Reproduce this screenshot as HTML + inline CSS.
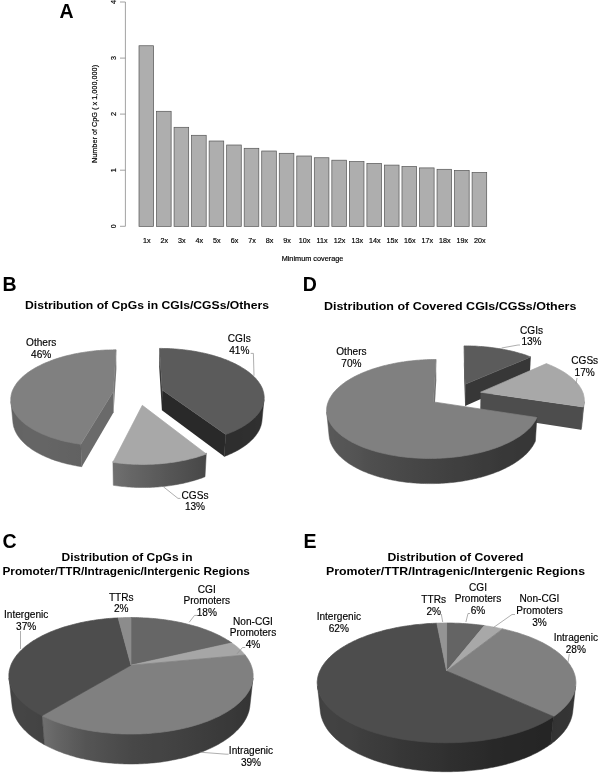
<!DOCTYPE html>
<html><head><meta charset="utf-8"><title>Figure</title>
<style>html,body{margin:0;padding:0;background:#fff}svg{display:block}text{font-family:"Liberation Sans",Arial,sans-serif}</style>
</head><body>
<svg width="600" height="774" viewBox="0 0 600 774">
<rect width="600" height="774" fill="#fff"/>
<defs><linearGradient id="g1" gradientUnits="userSpaceOnUse" x1="264.0" y1="0" x2="225.8" y2="0"><stop offset="0.000" stop-color="#313131"/><stop offset="0.006" stop-color="#313131"/><stop offset="0.021" stop-color="#313131"/><stop offset="0.042" stop-color="#303030"/><stop offset="0.070" stop-color="#303030"/><stop offset="0.104" stop-color="#303030"/><stop offset="0.144" stop-color="#303030"/><stop offset="0.191" stop-color="#303030"/><stop offset="0.244" stop-color="#2f2f2f"/><stop offset="0.304" stop-color="#2f2f2f"/><stop offset="0.370" stop-color="#2f2f2f"/><stop offset="0.442" stop-color="#2f2f2f"/><stop offset="0.521" stop-color="#2f2f2f"/><stop offset="0.605" stop-color="#2e2e2e"/><stop offset="0.696" stop-color="#2e2e2e"/><stop offset="0.792" stop-color="#2e2e2e"/><stop offset="0.893" stop-color="#2e2e2e"/><stop offset="1.000" stop-color="#2e2e2e"/></linearGradient>
<linearGradient id="g2" gradientUnits="userSpaceOnUse" x1="206.3" y1="0" x2="112.9" y2="0"><stop offset="0.000" stop-color="#474747"/><stop offset="0.049" stop-color="#494949"/><stop offset="0.099" stop-color="#4b4b4b"/><stop offset="0.152" stop-color="#4d4d4d"/><stop offset="0.206" stop-color="#4f4f4f"/><stop offset="0.261" stop-color="#515151"/><stop offset="0.318" stop-color="#535353"/><stop offset="0.377" stop-color="#555555"/><stop offset="0.436" stop-color="#575757"/><stop offset="0.496" stop-color="#5a5a5a"/><stop offset="0.556" stop-color="#5c5c5c"/><stop offset="0.617" stop-color="#5f5f5f"/><stop offset="0.678" stop-color="#616161"/><stop offset="0.739" stop-color="#646464"/><stop offset="0.800" stop-color="#666666"/><stop offset="0.861" stop-color="#696969"/><stop offset="0.921" stop-color="#6c6c6c"/><stop offset="1.000" stop-color="#6f6f6f"/></linearGradient>
<linearGradient id="g3" gradientUnits="userSpaceOnUse" x1="80.8" y1="0" x2="10.9" y2="0"><stop offset="0.000" stop-color="#616161"/><stop offset="0.073" stop-color="#626262"/><stop offset="0.145" stop-color="#626262"/><stop offset="0.215" stop-color="#636363"/><stop offset="0.283" stop-color="#636363"/><stop offset="0.348" stop-color="#646464"/><stop offset="0.412" stop-color="#646464"/><stop offset="0.472" stop-color="#656565"/><stop offset="0.530" stop-color="#656565"/><stop offset="0.584" stop-color="#656565"/><stop offset="0.636" stop-color="#656565"/><stop offset="0.685" stop-color="#656565"/><stop offset="0.730" stop-color="#656565"/><stop offset="0.772" stop-color="#656565"/><stop offset="0.810" stop-color="#656565"/><stop offset="0.845" stop-color="#646464"/><stop offset="0.877" stop-color="#646464"/><stop offset="0.905" stop-color="#646464"/><stop offset="0.929" stop-color="#646464"/><stop offset="0.950" stop-color="#646464"/><stop offset="0.968" stop-color="#646464"/><stop offset="0.981" stop-color="#646464"/><stop offset="0.992" stop-color="#636363"/><stop offset="1.000" stop-color="#626262"/></linearGradient>
<linearGradient id="g4" gradientUnits="userSpaceOnUse" x1="584.2" y1="0" x2="583.2" y2="0"><stop offset="0.000" stop-color="#474747"/><stop offset="0.371" stop-color="#474747"/><stop offset="1.000" stop-color="#474747"/></linearGradient>
<linearGradient id="g5" gradientUnits="userSpaceOnUse" x1="536.9" y1="0" x2="326.7" y2="0"><stop offset="0.000" stop-color="#363636"/><stop offset="0.006" stop-color="#363636"/><stop offset="0.012" stop-color="#363636"/><stop offset="0.021" stop-color="#363636"/><stop offset="0.030" stop-color="#373737"/><stop offset="0.040" stop-color="#373737"/><stop offset="0.052" stop-color="#373737"/><stop offset="0.065" stop-color="#373737"/><stop offset="0.079" stop-color="#373737"/><stop offset="0.095" stop-color="#373737"/><stop offset="0.111" stop-color="#383838"/><stop offset="0.129" stop-color="#383838"/><stop offset="0.147" stop-color="#383838"/><stop offset="0.167" stop-color="#383838"/><stop offset="0.188" stop-color="#393939"/><stop offset="0.210" stop-color="#3a3a3a"/><stop offset="0.232" stop-color="#3b3b3b"/><stop offset="0.256" stop-color="#3b3b3b"/><stop offset="0.280" stop-color="#3c3c3c"/><stop offset="0.305" stop-color="#3d3d3d"/><stop offset="0.330" stop-color="#3e3e3e"/><stop offset="0.356" stop-color="#3f3f3f"/><stop offset="0.383" stop-color="#3f3f3f"/><stop offset="0.410" stop-color="#404040"/><stop offset="0.437" stop-color="#414141"/><stop offset="0.464" stop-color="#424242"/><stop offset="0.492" stop-color="#434343"/><stop offset="0.519" stop-color="#444444"/><stop offset="0.547" stop-color="#454545"/><stop offset="0.574" stop-color="#464646"/><stop offset="0.601" stop-color="#474747"/><stop offset="0.628" stop-color="#484848"/><stop offset="0.654" stop-color="#494949"/><stop offset="0.680" stop-color="#4a4a4a"/><stop offset="0.705" stop-color="#4b4b4b"/><stop offset="0.729" stop-color="#4c4c4c"/><stop offset="0.753" stop-color="#4d4d4d"/><stop offset="0.776" stop-color="#4e4e4e"/><stop offset="0.798" stop-color="#4f4f4f"/><stop offset="0.819" stop-color="#505050"/><stop offset="0.839" stop-color="#525252"/><stop offset="0.858" stop-color="#535353"/><stop offset="0.876" stop-color="#545454"/><stop offset="0.893" stop-color="#555555"/><stop offset="0.908" stop-color="#555555"/><stop offset="0.923" stop-color="#565656"/><stop offset="0.936" stop-color="#565656"/><stop offset="0.948" stop-color="#575757"/><stop offset="0.959" stop-color="#575757"/><stop offset="0.968" stop-color="#585858"/><stop offset="0.977" stop-color="#585858"/><stop offset="0.984" stop-color="#585858"/><stop offset="0.989" stop-color="#595959"/><stop offset="0.994" stop-color="#595959"/><stop offset="0.997" stop-color="#595959"/><stop offset="1.000" stop-color="#595959"/></linearGradient>
<linearGradient id="g6" gradientUnits="userSpaceOnUse" x1="253.0" y1="0" x2="42.0" y2="0"><stop offset="0.000" stop-color="#333333"/><stop offset="0.002" stop-color="#333333"/><stop offset="0.006" stop-color="#333333"/><stop offset="0.011" stop-color="#343434"/><stop offset="0.017" stop-color="#353535"/><stop offset="0.025" stop-color="#353535"/><stop offset="0.035" stop-color="#363636"/><stop offset="0.046" stop-color="#363636"/><stop offset="0.058" stop-color="#373737"/><stop offset="0.072" stop-color="#373737"/><stop offset="0.087" stop-color="#383838"/><stop offset="0.104" stop-color="#393939"/><stop offset="0.122" stop-color="#393939"/><stop offset="0.142" stop-color="#3a3a3a"/><stop offset="0.163" stop-color="#3a3a3a"/><stop offset="0.186" stop-color="#3b3b3b"/><stop offset="0.210" stop-color="#3c3c3c"/><stop offset="0.235" stop-color="#3d3d3d"/><stop offset="0.261" stop-color="#3e3e3e"/><stop offset="0.288" stop-color="#3f3f3f"/><stop offset="0.316" stop-color="#404040"/><stop offset="0.345" stop-color="#414141"/><stop offset="0.375" stop-color="#424242"/><stop offset="0.406" stop-color="#434343"/><stop offset="0.438" stop-color="#444444"/><stop offset="0.470" stop-color="#444444"/><stop offset="0.502" stop-color="#454545"/><stop offset="0.534" stop-color="#464646"/><stop offset="0.567" stop-color="#474747"/><stop offset="0.600" stop-color="#494949"/><stop offset="0.633" stop-color="#4b4b4b"/><stop offset="0.665" stop-color="#4d4d4d"/><stop offset="0.697" stop-color="#4f4f4f"/><stop offset="0.729" stop-color="#515151"/><stop offset="0.760" stop-color="#535353"/><stop offset="0.791" stop-color="#545454"/><stop offset="0.820" stop-color="#585858"/><stop offset="0.849" stop-color="#5b5b5b"/><stop offset="0.877" stop-color="#5f5f5f"/><stop offset="0.904" stop-color="#626262"/><stop offset="0.930" stop-color="#656565"/><stop offset="0.955" stop-color="#696969"/><stop offset="0.978" stop-color="#6c6c6c"/><stop offset="1.000" stop-color="#6f6f6f"/></linearGradient>
<linearGradient id="g7" gradientUnits="userSpaceOnUse" x1="42.0" y1="0" x2="9.0" y2="0"><stop offset="0.000" stop-color="#434343"/><stop offset="0.089" stop-color="#434343"/><stop offset="0.216" stop-color="#444444"/><stop offset="0.333" stop-color="#444444"/><stop offset="0.441" stop-color="#444444"/><stop offset="0.540" stop-color="#454545"/><stop offset="0.629" stop-color="#454545"/><stop offset="0.708" stop-color="#454545"/><stop offset="0.778" stop-color="#454545"/><stop offset="0.838" stop-color="#444444"/><stop offset="0.889" stop-color="#434343"/><stop offset="0.931" stop-color="#424242"/><stop offset="0.963" stop-color="#414141"/><stop offset="0.986" stop-color="#414141"/><stop offset="1.000" stop-color="#404040"/></linearGradient>
<linearGradient id="g8" gradientUnits="userSpaceOnUse" x1="575.6" y1="0" x2="553.5" y2="0"><stop offset="0.000" stop-color="#373737"/><stop offset="0.027" stop-color="#363636"/><stop offset="0.067" stop-color="#353535"/><stop offset="0.123" stop-color="#353535"/><stop offset="0.194" stop-color="#353535"/><stop offset="0.280" stop-color="#353535"/><stop offset="0.381" stop-color="#343434"/><stop offset="0.498" stop-color="#343434"/><stop offset="0.631" stop-color="#343434"/><stop offset="0.779" stop-color="#343434"/><stop offset="1.000" stop-color="#333333"/></linearGradient>
<linearGradient id="g9" gradientUnits="userSpaceOnUse" x1="553.5" y1="0" x2="317.5" y2="0"><stop offset="0.000" stop-color="#242424"/><stop offset="0.017" stop-color="#252525"/><stop offset="0.036" stop-color="#252525"/><stop offset="0.056" stop-color="#252525"/><stop offset="0.077" stop-color="#262626"/><stop offset="0.100" stop-color="#262626"/><stop offset="0.124" stop-color="#262626"/><stop offset="0.148" stop-color="#272727"/><stop offset="0.175" stop-color="#272727"/><stop offset="0.202" stop-color="#272727"/><stop offset="0.230" stop-color="#282828"/><stop offset="0.258" stop-color="#282828"/><stop offset="0.288" stop-color="#2a2a2a"/><stop offset="0.318" stop-color="#2b2b2b"/><stop offset="0.349" stop-color="#2c2c2c"/><stop offset="0.380" stop-color="#2d2d2d"/><stop offset="0.411" stop-color="#2e2e2e"/><stop offset="0.443" stop-color="#2f2f2f"/><stop offset="0.475" stop-color="#313131"/><stop offset="0.506" stop-color="#323232"/><stop offset="0.537" stop-color="#333333"/><stop offset="0.568" stop-color="#343434"/><stop offset="0.599" stop-color="#353535"/><stop offset="0.629" stop-color="#363636"/><stop offset="0.658" stop-color="#373737"/><stop offset="0.687" stop-color="#393939"/><stop offset="0.714" stop-color="#3a3a3a"/><stop offset="0.741" stop-color="#3b3b3b"/><stop offset="0.767" stop-color="#3c3c3c"/><stop offset="0.791" stop-color="#3d3d3d"/><stop offset="0.815" stop-color="#3e3e3e"/><stop offset="0.837" stop-color="#404040"/><stop offset="0.858" stop-color="#414141"/><stop offset="0.877" stop-color="#414141"/><stop offset="0.895" stop-color="#414141"/><stop offset="0.912" stop-color="#414141"/><stop offset="0.927" stop-color="#424242"/><stop offset="0.941" stop-color="#424242"/><stop offset="0.953" stop-color="#424242"/><stop offset="0.964" stop-color="#424242"/><stop offset="0.974" stop-color="#424242"/><stop offset="0.982" stop-color="#414141"/><stop offset="0.988" stop-color="#404040"/><stop offset="0.994" stop-color="#404040"/><stop offset="0.998" stop-color="#3f3f3f"/><stop offset="1.000" stop-color="#3f3f3f"/></linearGradient></defs>
<g stroke="#8a8a8a" stroke-width="0.8" fill="none">
<path d="M125.4,2V226.3"/>
<path d="M120,226.3H125.4"/>
<path d="M120,170.2H125.4"/>
<path d="M120,114.1H125.4"/>
<path d="M120,58.1H125.4"/>
<path d="M120,2.0H125.4"/>
</g>
<g fill="#aeaeae" stroke="#555" stroke-width="0.7">
<rect x="139.00" y="45.75" width="14.61" height="180.65"/>
<rect x="156.53" y="111.30" width="14.61" height="115.10"/>
<rect x="174.06" y="127.30" width="14.61" height="99.10"/>
<rect x="191.59" y="135.30" width="14.61" height="91.10"/>
<rect x="209.12" y="141.00" width="14.61" height="85.40"/>
<rect x="226.66" y="145.00" width="14.61" height="81.40"/>
<rect x="244.19" y="148.30" width="14.61" height="78.10"/>
<rect x="261.72" y="151.00" width="14.61" height="75.40"/>
<rect x="279.25" y="153.30" width="14.61" height="73.10"/>
<rect x="296.78" y="156.00" width="14.61" height="70.40"/>
<rect x="314.31" y="157.75" width="14.61" height="68.65"/>
<rect x="331.84" y="160.20" width="14.61" height="66.20"/>
<rect x="349.37" y="161.60" width="14.61" height="64.80"/>
<rect x="366.90" y="163.40" width="14.61" height="63.00"/>
<rect x="384.44" y="165.10" width="14.61" height="61.30"/>
<rect x="401.97" y="166.50" width="14.61" height="59.90"/>
<rect x="419.50" y="167.90" width="14.61" height="58.50"/>
<rect x="437.03" y="169.30" width="14.61" height="57.10"/>
<rect x="454.56" y="170.40" width="14.61" height="56.00"/>
<rect x="472.09" y="172.50" width="14.61" height="53.90"/>
</g>
<g fill="#000" stroke="#000" stroke-width="0.18">
<text x="146.8" y="243.2" font-size="7.20" text-anchor="middle">1x</text>
<text x="164.3" y="243.2" font-size="7.20" text-anchor="middle">2x</text>
<text x="181.9" y="243.2" font-size="7.20" text-anchor="middle">3x</text>
<text x="199.4" y="243.2" font-size="7.20" text-anchor="middle">4x</text>
<text x="216.9" y="243.2" font-size="7.20" text-anchor="middle">5x</text>
<text x="234.5" y="243.2" font-size="7.20" text-anchor="middle">6x</text>
<text x="252.0" y="243.2" font-size="7.20" text-anchor="middle">7x</text>
<text x="269.5" y="243.2" font-size="7.20" text-anchor="middle">8x</text>
<text x="287.1" y="243.2" font-size="7.20" text-anchor="middle">9x</text>
<text x="304.6" y="243.2" font-size="7.20" text-anchor="middle">10x</text>
<text x="322.1" y="243.2" font-size="7.20" text-anchor="middle">11x</text>
<text x="339.6" y="243.2" font-size="7.20" text-anchor="middle">12x</text>
<text x="357.2" y="243.2" font-size="7.20" text-anchor="middle">13x</text>
<text x="374.7" y="243.2" font-size="7.20" text-anchor="middle">14x</text>
<text x="392.2" y="243.2" font-size="7.20" text-anchor="middle">15x</text>
<text x="409.8" y="243.2" font-size="7.20" text-anchor="middle">16x</text>
<text x="427.3" y="243.2" font-size="7.20" text-anchor="middle">17x</text>
<text x="444.8" y="243.2" font-size="7.20" text-anchor="middle">18x</text>
<text x="462.4" y="243.2" font-size="7.20" text-anchor="middle">19x</text>
<text x="479.9" y="243.2" font-size="7.20" text-anchor="middle">20x</text>
<text x="312.5" y="261.2" font-size="7.30" text-anchor="middle">Minimum coverage</text>
<text transform="translate(115.8,226.3) rotate(-90)" font-size="7.2" text-anchor="middle">0</text>
<text transform="translate(115.8,170.2) rotate(-90)" font-size="7.2" text-anchor="middle">1</text>
<text transform="translate(115.8,114.1) rotate(-90)" font-size="7.2" text-anchor="middle">2</text>
<text transform="translate(115.8,58.1) rotate(-90)" font-size="7.2" text-anchor="middle">3</text>
<text transform="translate(115.8,2.0) rotate(-90)" font-size="7.2" text-anchor="middle">4</text>
<text transform="translate(97,114) rotate(-90)" font-size="7.3" text-anchor="middle">Number of CpG ( x 1,000,000)</text>
</g>
<g fill="#000" font-weight="bold" font-size="19.5">
<text x="59.6" y="17.8">A</text>
<text x="2.6" y="291.0">B</text>
<text x="302.8" y="291.0">D</text>
<text x="2.6" y="547.5">C</text>
<text x="303.5" y="547.5">E</text>
</g>
<g fill="#000">
<text x="147.0" y="309.0" font-size="11.60" text-anchor="middle" font-weight="bold" textLength="244.0" lengthAdjust="spacingAndGlyphs">Distribution of CpGs in CGIs/CGSs/Others</text>
<text x="450.2" y="310.0" font-size="11.60" text-anchor="middle" font-weight="bold" textLength="252.5" lengthAdjust="spacingAndGlyphs">Distribution of Covered CGIs/CGSs/Others</text>
<text x="127.0" y="561.0" font-size="11.60" text-anchor="middle" font-weight="bold" textLength="131.0" lengthAdjust="spacingAndGlyphs">Distribution of CpGs in</text>
<text x="126.2" y="575.0" font-size="11.60" text-anchor="middle" font-weight="bold" textLength="247.5" lengthAdjust="spacingAndGlyphs">Promoter/TTR/Intragenic/Intergenic Regions</text>
<text x="455.5" y="561.0" font-size="11.60" text-anchor="middle" font-weight="bold" textLength="136.0" lengthAdjust="spacingAndGlyphs">Distribution of Covered</text>
<text x="455.5" y="575.0" font-size="11.60" text-anchor="middle" font-weight="bold" textLength="259.0" lengthAdjust="spacingAndGlyphs">Promoter/TTR/Intragenic/Intergenic Regions</text>
</g>
<path d="M162.2,389.9 L159.5,348.4 L159.2,367.1 L161.9,410.3Z" fill="#373737"/>
<path d="M162.2,389.9 L225.8,434.4 L224.2,456.5 L161.9,410.3Z" fill="#292929"/>
<path d="M264.0,399.5 L263.9,400.3 L263.7,401.1 L263.6,401.8 L263.4,402.6 L263.2,403.4 L262.9,404.1 L262.7,404.9 L262.4,405.6 L262.0,406.4 L261.7,407.2 L261.3,407.9 L260.9,408.7 L260.5,409.4 L260.0,410.2 L259.5,410.9 L259.0,411.6 L258.5,412.4 L257.9,413.1 L257.3,413.9 L256.7,414.6 L256.0,415.3 L255.4,416.0 L254.7,416.8 L253.9,417.5 L253.2,418.2 L252.4,418.9 L251.6,419.6 L250.7,420.3 L249.9,420.9 L249.0,421.6 L248.0,422.3 L247.1,423.0 L246.1,423.6 L245.1,424.3 L244.1,424.9 L243.0,425.6 L242.0,426.2 L240.9,426.8 L239.7,427.4 L238.6,428.0 L237.4,428.6 L236.2,429.2 L235.0,429.8 L233.7,430.3 L232.5,430.9 L231.2,431.4 L229.9,432.0 L228.5,432.5 L227.2,433.0 L225.8,433.5 L224.2,456.5 L225.6,456.0 L226.9,455.4 L228.2,454.9 L229.5,454.3 L230.8,453.8 L232.1,453.2 L233.3,452.6 L234.5,452.0 L235.7,451.4 L236.8,450.8 L238.0,450.2 L239.1,449.5 L240.1,448.9 L241.2,448.2 L242.2,447.6 L243.3,446.9 L244.2,446.2 L245.2,445.6 L246.1,444.9 L247.0,444.2 L247.9,443.5 L248.8,442.8 L249.6,442.0 L250.4,441.3 L251.2,440.6 L251.9,439.9 L252.7,439.1 L253.4,438.4 L254.0,437.6 L254.7,436.9 L255.3,436.1 L255.9,435.4 L256.4,434.6 L257.0,433.8 L257.5,433.1 L258.0,432.3 L258.4,431.5 L258.9,430.7 L259.3,429.9 L259.6,429.2 L260.0,428.4 L260.3,427.6 L260.6,426.8 L260.9,426.0 L261.1,425.2 L261.3,424.4 L261.5,423.6 L261.7,422.8 L261.8,422.1 L261.9,421.3Z" fill="url(#g1)" stroke="url(#g1)" stroke-width="0.5" stroke-linejoin="round"/>
<path d="M162.2,389.9 L159.5,348.4 L161.3,348.4 L163.2,348.5 L165.1,348.5 L166.9,348.5 L168.8,348.6 L170.7,348.7 L172.5,348.8 L174.4,348.9 L176.2,349.1 L178.1,349.2 L179.9,349.4 L181.8,349.6 L183.6,349.8 L185.4,350.0 L187.2,350.2 L189.1,350.5 L190.9,350.7 L192.7,351.0 L194.5,351.3 L196.2,351.6 L198.0,352.0 L199.8,352.3 L201.5,352.7 L203.3,353.0 L205.0,353.4 L206.7,353.8 L208.4,354.2 L210.1,354.7 L211.8,355.1 L213.4,355.6 L215.1,356.1 L216.7,356.6 L218.3,357.1 L219.9,357.6 L221.5,358.1 L223.0,358.7 L224.6,359.3 L226.1,359.8 L227.6,360.4 L229.1,361.0 L230.5,361.7 L231.9,362.3 L233.4,363.0 L234.7,363.6 L236.1,364.3 L237.4,365.0 L238.8,365.7 L240.1,366.4 L241.3,367.2 L242.5,367.9 L243.8,368.7 L244.9,369.4 L246.1,370.2 L247.2,371.0 L248.3,371.8 L249.3,372.6 L250.4,373.4 L251.4,374.3 L252.3,375.1 L253.3,376.0 L254.2,376.8 L255.0,377.7 L255.9,378.6 L256.6,379.5 L257.4,380.4 L258.1,381.3 L258.8,382.3 L259.4,383.2 L260.0,384.1 L260.6,385.1 L261.1,386.0 L261.6,387.0 L262.1,388.0 L262.5,388.9 L262.8,389.9 L263.1,390.9 L263.4,391.9 L263.7,392.9 L263.8,393.9 L264.0,394.9 L264.1,395.9 L264.2,396.9 L264.2,397.9 L264.1,398.9 L264.0,399.9 L263.9,401.0 L263.7,402.0 L263.5,403.0 L263.3,404.0 L262.9,405.0 L262.6,406.0 L262.2,407.0 L261.7,408.1 L261.2,409.1 L260.6,410.1 L260.0,411.1 L259.4,412.1 L258.7,413.0 L257.9,414.0 L257.1,415.0 L256.3,416.0 L255.4,416.9 L254.4,417.9 L253.4,418.8 L252.4,419.8 L251.3,420.7 L250.1,421.6 L249.0,422.5 L247.7,423.4 L246.4,424.3 L245.1,425.2 L243.7,426.0 L242.3,426.9 L240.9,427.7 L239.4,428.5 L237.8,429.3 L236.2,430.1 L234.6,430.9 L232.9,431.6 L231.2,432.3 L229.4,433.1 L227.6,433.7 L225.8,434.4Z" fill="#5b5b5b" stroke="#5b5b5b" stroke-width="0.7" stroke-linejoin="round"/>
<path d="M113.2,391.7 L80.8,444.3 L81.8,466.7 L113.6,412.2Z" fill="#6a6a6a"/>
<path d="M113.2,391.7 L116.1,349.8 L116.4,368.6 L113.6,412.2Z" fill="#7a7a7a"/>
<path d="M80.8,443.4 L79.1,443.1 L77.4,442.9 L75.7,442.6 L74.0,442.3 L72.3,442.0 L70.7,441.7 L69.0,441.3 L67.4,441.0 L65.8,440.6 L64.2,440.2 L62.6,439.9 L61.0,439.5 L59.5,439.0 L58.0,438.6 L56.5,438.2 L55.0,437.7 L53.5,437.3 L52.0,436.8 L50.6,436.3 L49.2,435.8 L47.8,435.3 L46.5,434.8 L45.1,434.2 L43.8,433.7 L42.5,433.1 L41.2,432.6 L40.0,432.0 L38.7,431.4 L37.5,430.8 L36.4,430.2 L35.2,429.6 L34.1,429.0 L33.0,428.4 L31.9,427.7 L30.8,427.1 L29.8,426.4 L28.8,425.8 L27.8,425.1 L26.9,424.4 L26.0,423.8 L25.1,423.1 L24.2,422.4 L23.3,421.7 L22.5,421.0 L21.7,420.3 L21.0,419.6 L20.2,418.8 L19.5,418.1 L18.9,417.4 L18.2,416.7 L17.6,415.9 L17.0,415.2 L16.4,414.4 L15.9,413.7 L15.4,412.9 L14.9,412.2 L14.4,411.4 L14.0,410.7 L13.6,409.9 L13.2,409.1 L12.9,408.4 L12.5,407.6 L12.2,406.8 L12.0,406.1 L11.7,405.3 L11.5,404.5 L11.3,403.8 L11.2,403.0 L11.0,402.2 L10.9,401.5 L13.0,423.2 L13.1,424.0 L13.3,424.8 L13.4,425.6 L13.6,426.4 L13.8,427.2 L14.1,428.0 L14.4,428.8 L14.6,429.6 L15.0,430.4 L15.3,431.2 L15.7,432.0 L16.1,432.8 L16.5,433.6 L17.0,434.4 L17.5,435.2 L18.0,435.9 L18.5,436.7 L19.1,437.5 L19.7,438.3 L20.3,439.0 L20.9,439.8 L21.6,440.5 L22.3,441.3 L23.0,442.0 L23.8,442.8 L24.5,443.5 L25.3,444.2 L26.2,445.0 L27.0,445.7 L27.9,446.4 L28.8,447.1 L29.8,447.8 L30.7,448.5 L31.7,449.2 L32.7,449.9 L33.8,450.5 L34.8,451.2 L35.9,451.8 L37.0,452.5 L38.2,453.1 L39.3,453.7 L40.5,454.3 L41.7,454.9 L43.0,455.5 L44.2,456.1 L45.5,456.7 L46.8,457.2 L48.1,457.8 L49.4,458.3 L50.8,458.9 L52.2,459.4 L53.6,459.9 L55.0,460.4 L56.5,460.9 L57.9,461.3 L59.4,461.8 L60.9,462.2 L62.4,462.7 L64.0,463.1 L65.5,463.5 L67.1,463.9 L68.7,464.2 L70.3,464.6 L71.9,464.9 L73.5,465.3 L75.2,465.6 L76.8,465.9 L78.5,466.2 L80.2,466.5 L81.8,466.7Z" fill="url(#g3)" stroke="url(#g3)" stroke-width="0.5" stroke-linejoin="round"/>
<path d="M113.2,391.7 L80.8,444.3 L78.5,443.9 L76.2,443.6 L74.0,443.2 L71.8,442.8 L69.6,442.3 L67.4,441.9 L65.2,441.4 L63.1,440.9 L61.0,440.4 L59.0,439.8 L57.0,439.2 L55.0,438.6 L53.0,438.0 L51.1,437.4 L49.2,436.7 L47.4,436.0 L45.6,435.3 L43.8,434.6 L42.1,433.9 L40.4,433.1 L38.7,432.3 L37.1,431.5 L35.6,430.7 L34.1,429.9 L32.6,429.1 L31.2,428.2 L29.8,427.3 L28.5,426.5 L27.2,425.6 L26.0,424.7 L24.8,423.8 L23.6,422.8 L22.5,421.9 L21.5,420.9 L20.5,420.0 L19.5,419.0 L18.6,418.0 L17.8,417.1 L17.0,416.1 L16.2,415.1 L15.5,414.1 L14.9,413.1 L14.3,412.1 L13.7,411.1 L13.2,410.0 L12.7,409.0 L12.3,408.0 L12.0,407.0 L11.7,405.9 L11.4,404.9 L11.2,403.9 L11.0,402.9 L10.9,401.8 L10.8,400.8 L10.8,399.8 L10.8,398.8 L10.8,397.8 L11.0,396.7 L11.1,395.7 L11.3,394.7 L11.5,393.7 L11.8,392.7 L12.1,391.7 L12.5,390.7 L12.9,389.7 L13.4,388.8 L13.9,387.8 L14.4,386.8 L15.0,385.9 L15.6,384.9 L16.2,384.0 L16.9,383.1 L17.6,382.1 L18.4,381.2 L19.2,380.3 L20.0,379.4 L20.9,378.5 L21.8,377.6 L22.7,376.8 L23.7,375.9 L24.7,375.1 L25.8,374.2 L26.8,373.4 L27.9,372.6 L29.1,371.8 L30.2,371.0 L31.4,370.2 L32.6,369.5 L33.9,368.7 L35.1,368.0 L36.4,367.3 L37.7,366.6 L39.1,365.9 L40.5,365.2 L41.9,364.5 L43.3,363.8 L44.7,363.2 L46.2,362.6 L47.7,362.0 L49.2,361.4 L50.7,360.8 L52.2,360.2 L53.8,359.6 L55.4,359.1 L57.0,358.6 L58.6,358.0 L60.3,357.5 L61.9,357.1 L63.6,356.6 L65.3,356.1 L67.0,355.7 L68.7,355.3 L70.4,354.9 L72.1,354.5 L73.9,354.1 L75.6,353.7 L77.4,353.4 L79.2,353.1 L81.0,352.8 L82.8,352.5 L84.6,352.2 L86.4,351.9 L88.2,351.7 L90.1,351.4 L91.9,351.2 L93.7,351.0 L95.6,350.8 L97.4,350.6 L99.3,350.5 L101.2,350.3 L103.0,350.2 L104.9,350.1 L106.8,350.0 L108.6,350.0 L110.5,349.9 L112.4,349.9 L114.3,349.8 L116.1,349.8Z" fill="#808080" stroke="#808080" stroke-width="0.7" stroke-linejoin="round"/>
<path d="M206.3,453.1 L204.8,453.7 L203.3,454.2 L201.8,454.7 L200.2,455.2 L198.6,455.7 L197.0,456.2 L195.4,456.6 L193.8,457.1 L192.1,457.5 L190.5,457.9 L188.8,458.4 L187.1,458.8 L185.4,459.1 L183.6,459.5 L181.9,459.8 L180.1,460.2 L178.4,460.5 L176.6,460.8 L174.8,461.1 L173.0,461.4 L171.1,461.6 L169.3,461.9 L167.5,462.1 L165.6,462.3 L163.7,462.5 L161.9,462.7 L160.0,462.8 L158.1,463.0 L156.2,463.1 L154.3,463.2 L152.4,463.3 L150.6,463.4 L148.6,463.4 L146.7,463.5 L144.8,463.5 L142.9,463.5 L141.0,463.5 L139.1,463.5 L137.2,463.4 L135.3,463.4 L133.4,463.3 L131.5,463.2 L129.6,463.1 L127.7,463.0 L125.8,462.8 L124.0,462.7 L122.1,462.5 L120.2,462.3 L118.4,462.1 L116.5,461.9 L114.7,461.6 L112.9,461.4 L113.3,485.3 L115.1,485.6 L116.9,485.8 L118.8,486.1 L120.6,486.3 L122.4,486.5 L124.2,486.6 L126.1,486.8 L127.9,487.0 L129.8,487.1 L131.6,487.2 L133.5,487.3 L135.4,487.4 L137.2,487.4 L139.1,487.5 L141.0,487.5 L142.8,487.5 L144.7,487.5 L146.6,487.5 L148.4,487.4 L150.3,487.4 L152.2,487.3 L154.0,487.2 L155.9,487.1 L157.7,487.0 L159.6,486.8 L161.4,486.6 L163.3,486.5 L165.1,486.3 L166.9,486.1 L168.7,485.8 L170.5,485.6 L172.3,485.3 L174.1,485.0 L175.8,484.7 L177.6,484.4 L179.3,484.1 L181.1,483.7 L182.8,483.4 L184.5,483.0 L186.2,482.6 L187.8,482.2 L189.5,481.8 L191.1,481.3 L192.7,480.9 L194.3,480.4 L195.9,479.9 L197.5,479.5 L199.0,478.9 L200.6,478.4 L202.1,477.9 L203.6,477.3 L205.0,476.8Z" fill="url(#g2)" stroke="url(#g2)" stroke-width="0.5" stroke-linejoin="round"/>
<path d="M142.3,405.3 L206.3,454.0 L204.3,454.7 L202.3,455.4 L200.2,456.1 L198.1,456.8 L196.0,457.4 L193.8,458.0 L191.6,458.6 L189.4,459.1 L187.1,459.7 L184.8,460.2 L182.5,460.6 L180.1,461.1 L177.8,461.5 L175.4,461.9 L173.0,462.3 L170.5,462.6 L168.1,462.9 L165.6,463.2 L163.1,463.4 L160.6,463.7 L158.1,463.9 L155.6,464.0 L153.1,464.2 L150.6,464.3 L148.0,464.3 L145.5,464.4 L142.9,464.4 L140.4,464.4 L137.8,464.3 L135.3,464.3 L132.8,464.2 L130.2,464.0 L127.7,463.9 L125.2,463.7 L122.7,463.4 L120.2,463.2 L117.8,462.9 L115.3,462.6 L112.9,462.3Z" fill="#a8a8a8" stroke="#a8a8a8" stroke-width="0.7" stroke-linejoin="round"/>
<path d="M465.2,384.2 L464.0,345.9 L463.9,365.7 L465.1,406.0Z" fill="#373737"/>
<path d="M465.2,384.2 L530.8,356.9 L529.7,377.3 L465.1,406.0Z" fill="#373737"/>
<path d="M465.2,384.2 L464.0,345.9 L465.9,345.9 L467.7,345.9 L469.5,345.9 L471.4,346.0 L473.2,346.1 L475.0,346.1 L476.9,346.2 L478.7,346.4 L480.5,346.5 L482.3,346.6 L484.1,346.8 L486.0,346.9 L487.8,347.1 L489.5,347.3 L491.3,347.5 L493.1,347.8 L494.9,348.0 L496.7,348.3 L498.4,348.5 L500.2,348.8 L501.9,349.1 L503.6,349.4 L505.3,349.8 L507.0,350.1 L508.7,350.5 L510.4,350.8 L512.1,351.2 L513.7,351.6 L515.4,352.0 L517.0,352.5 L518.6,352.9 L520.2,353.4 L521.8,353.8 L523.3,354.3 L524.9,354.8 L526.4,355.3 L527.9,355.9 L529.4,356.4 L530.8,356.9Z" fill="#5b5b5b" stroke="#5b5b5b" stroke-width="0.7" stroke-linejoin="round"/>
<path d="M480.6,392.2 L583.2,406.9 L580.9,429.8 L480.2,414.3Z" fill="#4d4d4d"/>
<path d="M584.2,401.6 L584.1,402.3 L584.0,403.1 L583.8,403.8 L583.6,404.5 L583.4,405.3 L583.2,406.0 L580.9,429.8 L581.2,429.0 L581.4,428.3 L581.5,427.5 L581.7,426.7 L581.8,425.9 L581.9,425.1Z" fill="url(#g4)" stroke="url(#g4)" stroke-width="0.5" stroke-linejoin="round"/>
<path d="M480.6,392.2 L546.4,363.6 L547.9,364.2 L549.3,364.8 L550.8,365.4 L552.2,366.0 L553.7,366.7 L555.0,367.3 L556.4,368.0 L557.8,368.7 L559.1,369.4 L560.4,370.1 L561.6,370.8 L562.9,371.5 L564.1,372.3 L565.3,373.0 L566.4,373.8 L567.5,374.6 L568.6,375.4 L569.7,376.2 L570.7,377.0 L571.7,377.8 L572.7,378.6 L573.6,379.5 L574.5,380.3 L575.3,381.2 L576.2,382.1 L577.0,382.9 L577.7,383.8 L578.4,384.7 L579.1,385.6 L579.7,386.5 L580.3,387.5 L580.9,388.4 L581.4,389.3 L581.9,390.3 L582.3,391.2 L582.7,392.2 L583.1,393.1 L583.4,394.1 L583.6,395.1 L583.8,396.0 L584.0,397.0 L584.2,398.0 L584.2,399.0 L584.3,400.0 L584.3,401.0 L584.2,402.0 L584.1,403.0 L584.0,404.0 L583.8,404.9 L583.5,405.9 L583.2,406.9Z" fill="#a8a8a8" stroke="#a8a8a8" stroke-width="0.7" stroke-linejoin="round"/>
<path d="M433.3,401.9 L436.1,359.5 L436.3,380.0 L433.7,424.5Z" fill="#737373"/>
<path d="M536.9,416.6 L536.6,417.4 L536.2,418.2 L535.7,419.0 L535.3,419.8 L534.8,420.6 L534.3,421.4 L533.8,422.2 L533.2,422.9 L532.6,423.7 L532.0,424.5 L531.3,425.3 L530.7,426.0 L529.9,426.8 L529.2,427.6 L528.4,428.3 L527.6,429.1 L526.8,429.8 L526.0,430.6 L525.1,431.3 L524.2,432.1 L523.2,432.8 L522.3,433.5 L521.3,434.2 L520.3,435.0 L519.2,435.7 L518.1,436.4 L517.0,437.1 L515.9,437.7 L514.8,438.4 L513.6,439.1 L512.4,439.8 L511.1,440.4 L509.9,441.1 L508.6,441.7 L507.3,442.3 L505.9,442.9 L504.6,443.5 L503.2,444.1 L501.8,444.7 L500.4,445.3 L498.9,445.9 L497.4,446.4 L495.9,447.0 L494.4,447.5 L492.9,448.0 L491.3,448.5 L489.7,449.0 L488.1,449.5 L486.5,450.0 L484.8,450.5 L483.2,450.9 L481.5,451.3 L479.8,451.8 L478.1,452.2 L476.4,452.6 L474.6,452.9 L472.9,453.3 L471.1,453.7 L469.3,454.0 L467.5,454.3 L465.7,454.6 L463.9,454.9 L462.0,455.2 L460.2,455.5 L458.3,455.7 L456.4,455.9 L454.6,456.1 L452.7,456.4 L450.8,456.5 L448.9,456.7 L447.0,456.9 L445.1,457.0 L443.2,457.1 L441.2,457.2 L439.3,457.3 L437.4,457.4 L435.5,457.4 L433.5,457.5 L431.6,457.5 L429.7,457.5 L427.8,457.5 L425.8,457.5 L423.9,457.4 L422.0,457.4 L420.1,457.3 L418.2,457.2 L416.3,457.1 L414.4,457.0 L412.5,456.9 L410.6,456.7 L408.7,456.5 L406.8,456.4 L405.0,456.1 L403.1,455.9 L401.3,455.7 L399.5,455.5 L397.7,455.2 L395.9,454.9 L394.1,454.6 L392.3,454.3 L390.5,454.0 L388.8,453.7 L387.1,453.3 L385.4,452.9 L383.7,452.6 L382.0,452.2 L380.3,451.8 L378.7,451.3 L377.1,450.9 L375.5,450.5 L373.9,450.0 L372.3,449.5 L370.8,449.0 L369.2,448.5 L367.7,448.0 L366.3,447.5 L364.8,447.0 L363.4,446.4 L362.0,445.9 L360.6,445.3 L359.2,444.7 L357.9,444.1 L356.6,443.5 L355.3,442.9 L354.1,442.3 L352.8,441.7 L351.6,441.1 L350.5,440.4 L349.3,439.8 L348.2,439.1 L347.1,438.4 L346.0,437.7 L345.0,437.1 L344.0,436.4 L343.0,435.7 L342.0,435.0 L341.1,434.2 L340.2,433.5 L339.3,432.8 L338.5,432.1 L337.7,431.3 L336.9,430.6 L336.1,429.8 L335.4,429.1 L334.7,428.3 L334.0,427.6 L333.4,426.8 L332.8,426.0 L332.2,425.3 L331.6,424.5 L331.1,423.7 L330.6,422.9 L330.2,422.2 L329.7,421.4 L329.3,420.6 L328.9,419.8 L328.6,419.0 L328.3,418.2 L328.0,417.4 L327.7,416.6 L327.5,415.9 L327.3,415.1 L327.1,414.3 L327.0,413.5 L326.8,412.7 L326.7,411.9 L329.1,436.0 L329.2,436.8 L329.3,437.6 L329.4,438.4 L329.6,439.3 L329.8,440.1 L330.1,440.9 L330.3,441.8 L330.6,442.6 L330.9,443.4 L331.3,444.2 L331.7,445.1 L332.1,445.9 L332.5,446.7 L333.0,447.5 L333.4,448.3 L334.0,449.1 L334.5,450.0 L335.1,450.8 L335.7,451.6 L336.3,452.4 L337.0,453.2 L337.7,453.9 L338.4,454.7 L339.1,455.5 L339.9,456.3 L340.7,457.1 L341.5,457.8 L342.4,458.6 L343.3,459.3 L344.2,460.1 L345.1,460.8 L346.1,461.5 L347.1,462.3 L348.1,463.0 L349.2,463.7 L350.3,464.4 L351.4,465.1 L352.5,465.8 L353.7,466.4 L354.8,467.1 L356.1,467.8 L357.3,468.4 L358.5,469.0 L359.8,469.7 L361.1,470.3 L362.5,470.9 L363.8,471.5 L365.2,472.0 L366.6,472.6 L368.0,473.2 L369.5,473.7 L371.0,474.2 L372.5,474.8 L374.0,475.3 L375.5,475.8 L377.0,476.2 L378.6,476.7 L380.2,477.2 L381.8,477.6 L383.5,478.0 L385.1,478.4 L386.8,478.8 L388.4,479.2 L390.1,479.6 L391.8,479.9 L393.6,480.3 L395.3,480.6 L397.1,480.9 L398.8,481.2 L400.6,481.5 L402.4,481.7 L404.2,482.0 L406.0,482.2 L407.8,482.4 L409.7,482.6 L411.5,482.8 L413.3,482.9 L415.2,483.1 L417.1,483.2 L418.9,483.3 L420.8,483.4 L422.7,483.5 L424.6,483.5 L426.4,483.6 L428.3,483.6 L430.2,483.6 L432.1,483.6 L434.0,483.6 L435.9,483.5 L437.8,483.5 L439.6,483.4 L441.5,483.3 L443.4,483.2 L445.3,483.1 L447.2,482.9 L449.0,482.8 L450.9,482.6 L452.7,482.4 L454.6,482.2 L456.4,482.0 L458.3,481.7 L460.1,481.5 L461.9,481.2 L463.7,480.9 L465.5,480.6 L467.2,480.3 L469.0,479.9 L470.8,479.6 L472.5,479.2 L474.2,478.8 L475.9,478.4 L477.6,478.0 L479.3,477.6 L481.0,477.2 L482.6,476.7 L484.2,476.2 L485.9,475.8 L487.4,475.3 L489.0,474.8 L490.6,474.2 L492.1,473.7 L493.6,473.2 L495.1,472.6 L496.6,472.0 L498.0,471.5 L499.5,470.9 L500.9,470.3 L502.2,469.7 L503.6,469.0 L504.9,468.4 L506.2,467.8 L507.5,467.1 L508.8,466.4 L510.0,465.8 L511.2,465.1 L512.4,464.4 L513.6,463.7 L514.7,463.0 L515.8,462.3 L516.9,461.5 L518.0,460.8 L519.0,460.1 L520.0,459.3 L521.0,458.6 L521.9,457.8 L522.9,457.1 L523.8,456.3 L524.6,455.5 L525.5,454.7 L526.3,453.9 L527.1,453.2 L527.8,452.4 L528.5,451.6 L529.2,450.8 L529.9,450.0 L530.5,449.1 L531.2,448.3 L531.7,447.5 L532.3,446.7 L532.8,445.9 L533.3,445.1 L533.8,444.2 L534.2,443.4 L534.7,442.6 L535.1,441.8 L535.4,440.9Z" fill="url(#g5)" stroke="url(#g5)" stroke-width="0.5" stroke-linejoin="round"/>
<path d="M433.3,401.9 L536.9,417.5 L536.4,418.6 L535.9,419.7 L535.3,420.7 L534.6,421.8 L533.9,422.8 L533.2,423.8 L532.4,424.9 L531.6,425.9 L530.7,426.9 L529.7,428.0 L528.7,429.0 L527.6,430.0 L526.5,431.0 L525.4,432.0 L524.2,433.0 L522.9,433.9 L521.6,434.9 L520.3,435.9 L518.9,436.8 L517.4,437.7 L515.9,438.6 L514.4,439.5 L512.8,440.4 L511.1,441.3 L509.4,442.2 L507.7,443.0 L505.9,443.8 L504.1,444.6 L502.3,445.4 L500.4,446.2 L498.4,447.0 L496.4,447.7 L494.4,448.4 L492.3,449.1 L490.2,449.8 L488.1,450.4 L485.9,451.0 L483.7,451.7 L481.5,452.2 L479.2,452.8 L476.9,453.3 L474.6,453.8 L472.3,454.3 L469.9,454.8 L467.5,455.2 L465.1,455.6 L462.6,456.0 L460.2,456.4 L457.7,456.7 L455.2,457.0 L452.7,457.3 L450.2,457.5 L447.6,457.7 L445.1,457.9 L442.5,458.1 L440.0,458.2 L437.4,458.3 L434.8,458.4 L432.3,458.4 L429.7,458.4 L427.1,458.4 L424.6,458.4 L422.0,458.3 L419.4,458.2 L416.9,458.1 L414.4,457.9 L411.9,457.7 L409.3,457.5 L406.8,457.3 L404.4,457.0 L401.9,456.7 L399.5,456.4 L397.1,456.0 L394.7,455.6 L392.3,455.2 L390.0,454.8 L387.6,454.3 L385.4,453.8 L383.1,453.3 L380.9,452.8 L378.7,452.2 L376.5,451.7 L374.4,451.0 L372.3,450.4 L370.3,449.8 L368.2,449.1 L366.3,448.4 L364.3,447.7 L362.4,447.0 L360.6,446.2 L358.8,445.4 L357.0,444.6 L355.3,443.8 L353.7,443.0 L352.0,442.2 L350.5,441.3 L348.9,440.4 L347.4,439.5 L346.0,438.6 L344.6,437.7 L343.3,436.8 L342.0,435.9 L340.8,434.9 L339.6,433.9 L338.5,433.0 L337.4,432.0 L336.4,431.0 L335.4,430.0 L334.5,429.0 L333.6,428.0 L332.8,426.9 L332.0,425.9 L331.3,424.9 L330.6,423.8 L330.0,422.8 L329.5,421.8 L328.9,420.7 L328.5,419.7 L328.1,418.6 L327.7,417.5 L327.4,416.5 L327.2,415.4 L327.0,414.4 L326.8,413.3 L326.7,412.3 L326.6,411.2 L326.6,410.2 L326.7,409.1 L326.7,408.1 L326.9,407.0 L327.0,406.0 L327.3,405.0 L327.5,403.9 L327.9,402.9 L328.2,401.9 L328.6,400.9 L329.1,399.9 L329.5,398.9 L330.1,397.9 L330.7,396.9 L331.3,395.9 L331.9,395.0 L332.6,394.0 L333.3,393.0 L334.1,392.1 L334.9,391.2 L335.8,390.3 L336.6,389.3 L337.6,388.4 L338.5,387.6 L339.5,386.7 L340.5,385.8 L341.6,384.9 L342.7,384.1 L343.8,383.3 L344.9,382.4 L346.1,381.6 L347.3,380.8 L348.6,380.1 L349.8,379.3 L351.1,378.5 L352.4,377.8 L353.8,377.0 L355.2,376.3 L356.6,375.6 L358.0,374.9 L359.5,374.3 L360.9,373.6 L362.4,372.9 L363.9,372.3 L365.5,371.7 L367.0,371.1 L368.6,370.5 L370.2,369.9 L371.8,369.3 L373.5,368.8 L375.1,368.3 L376.8,367.8 L378.5,367.3 L380.2,366.8 L381.9,366.3 L383.7,365.8 L385.4,365.4 L387.2,365.0 L389.0,364.6 L390.8,364.2 L392.6,363.8 L394.4,363.4 L396.2,363.1 L398.0,362.8 L399.9,362.4 L401.7,362.1 L403.6,361.9 L405.5,361.6 L407.3,361.3 L409.2,361.1 L411.1,360.9 L413.0,360.7 L414.9,360.5 L416.8,360.3 L418.7,360.2 L420.7,360.0 L422.6,359.9 L424.5,359.8 L426.4,359.7 L428.3,359.6 L430.3,359.6 L432.2,359.5 L434.1,359.5 L436.1,359.5Z" fill="#808080" stroke="#808080" stroke-width="0.7" stroke-linejoin="round"/>
<path d="M253.0,678.0 L252.8,679.0 L252.7,679.9 L252.5,680.8 L252.3,681.8 L252.0,682.7 L251.7,683.7 L251.4,684.6 L251.1,685.6 L250.7,686.5 L250.3,687.5 L249.8,688.4 L249.3,689.3 L248.8,690.3 L248.2,691.2 L247.6,692.2 L247.0,693.1 L246.3,694.0 L245.6,695.0 L244.9,695.9 L244.1,696.8 L243.3,697.7 L242.5,698.6 L241.6,699.6 L240.7,700.5 L239.8,701.4 L238.8,702.3 L237.8,703.1 L236.7,704.0 L235.7,704.9 L234.5,705.8 L233.4,706.6 L232.2,707.5 L231.0,708.3 L229.7,709.2 L228.4,710.0 L227.1,710.8 L225.8,711.6 L224.4,712.4 L223.0,713.2 L221.5,714.0 L220.0,714.8 L218.5,715.5 L217.0,716.3 L215.4,717.0 L213.8,717.7 L212.1,718.4 L210.4,719.1 L208.7,719.8 L207.0,720.5 L205.3,721.1 L203.5,721.8 L201.7,722.4 L199.8,723.0 L198.0,723.6 L196.1,724.2 L194.1,724.7 L192.2,725.3 L190.2,725.8 L188.2,726.3 L186.2,726.8 L184.2,727.3 L182.1,727.8 L180.1,728.2 L178.0,728.6 L175.9,729.0 L173.7,729.4 L171.6,729.8 L169.4,730.2 L167.2,730.5 L165.1,730.8 L162.8,731.1 L160.6,731.4 L158.4,731.6 L156.2,731.9 L153.9,732.1 L151.6,732.3 L149.4,732.5 L147.1,732.6 L144.8,732.7 L142.5,732.9 L140.2,733.0 L137.9,733.0 L135.6,733.1 L133.3,733.1 L131.0,733.1 L128.7,733.1 L126.4,733.1 L124.1,733.0 L121.8,733.0 L119.5,732.9 L117.2,732.7 L114.9,732.6 L112.6,732.5 L110.4,732.3 L108.1,732.1 L105.8,731.9 L103.6,731.6 L101.4,731.4 L99.2,731.1 L96.9,730.8 L94.8,730.5 L92.6,730.2 L90.4,729.8 L88.3,729.4 L86.1,729.0 L84.0,728.6 L81.9,728.2 L79.9,727.8 L77.8,727.3 L75.8,726.8 L73.8,726.3 L71.8,725.8 L69.8,725.3 L67.9,724.7 L65.9,724.2 L64.0,723.6 L62.2,723.0 L60.3,722.4 L58.5,721.8 L56.7,721.1 L55.0,720.5 L53.3,719.8 L51.6,719.1 L49.9,718.4 L48.2,717.7 L46.6,717.0 L45.0,716.3 L43.5,715.5 L42.0,714.8 L44.4,744.7 L45.9,745.5 L47.4,746.3 L49.0,747.1 L50.5,747.8 L52.1,748.6 L53.8,749.3 L55.4,750.0 L57.1,750.7 L58.8,751.4 L60.6,752.1 L62.3,752.7 L64.1,753.4 L65.9,754.0 L67.8,754.6 L69.7,755.2 L71.5,755.8 L73.5,756.3 L75.4,756.9 L77.3,757.4 L79.3,757.9 L81.3,758.4 L83.3,758.8 L85.4,759.3 L87.4,759.7 L89.5,760.1 L91.6,760.5 L93.7,760.9 L95.8,761.2 L97.9,761.6 L100.1,761.9 L102.2,762.2 L104.4,762.4 L106.6,762.7 L108.8,762.9 L111.0,763.1 L113.2,763.3 L115.4,763.5 L117.6,763.6 L119.8,763.7 L122.1,763.8 L124.3,763.9 L126.5,763.9 L128.8,764.0 L131.0,764.0 L133.2,764.0 L135.5,763.9 L137.7,763.9 L139.9,763.8 L142.2,763.7 L144.4,763.6 L146.6,763.5 L148.8,763.3 L151.0,763.1 L153.2,762.9 L155.4,762.7 L157.6,762.4 L159.8,762.2 L161.9,761.9 L164.1,761.6 L166.2,761.2 L168.3,760.9 L170.4,760.5 L172.5,760.1 L174.6,759.7 L176.6,759.3 L178.7,758.8 L180.7,758.4 L182.7,757.9 L184.7,757.4 L186.6,756.9 L188.5,756.3 L190.5,755.8 L192.3,755.2 L194.2,754.6 L196.1,754.0 L197.9,753.4 L199.7,752.7 L201.4,752.1 L203.2,751.4 L204.9,750.7 L206.6,750.0 L208.2,749.3 L209.9,748.6 L211.5,747.8 L213.0,747.1 L214.6,746.3 L216.1,745.5 L217.6,744.7 L219.0,743.9 L220.4,743.1 L221.8,742.3 L223.2,741.4 L224.5,740.6 L225.8,739.7 L227.0,738.8 L228.3,738.0 L229.5,737.1 L230.6,736.2 L231.7,735.3 L232.8,734.4 L233.9,733.4 L234.9,732.5 L235.9,731.6 L236.9,730.6 L237.8,729.7 L238.7,728.7 L239.6,727.8 L240.4,726.8 L241.2,725.8 L241.9,724.9 L242.6,723.9 L243.3,722.9 L244.0,721.9 L244.6,720.9 L245.2,720.0 L245.7,719.0 L246.3,718.0 L246.7,717.0 L247.2,716.0 L247.6,715.0 L248.0,714.0 L248.3,713.0 L248.7,712.0 L249.0,711.0 L249.2,710.0 L249.4,709.0 L249.6,708.0 L249.8,707.0 L249.9,706.0Z" fill="url(#g6)" stroke="url(#g6)" stroke-width="0.5" stroke-linejoin="round"/>
<path d="M42.0,714.8 L40.5,714.0 L39.0,713.2 L37.6,712.4 L36.2,711.6 L34.9,710.8 L33.6,710.0 L32.3,709.2 L31.0,708.3 L29.8,707.5 L28.6,706.6 L27.5,705.8 L26.3,704.9 L25.3,704.0 L24.2,703.1 L23.2,702.3 L22.2,701.4 L21.3,700.5 L20.4,699.6 L19.5,698.6 L18.7,697.7 L17.9,696.8 L17.1,695.9 L16.4,695.0 L15.7,694.0 L15.0,693.1 L14.4,692.2 L13.8,691.2 L13.2,690.3 L12.7,689.3 L12.2,688.4 L11.7,687.5 L11.3,686.5 L10.9,685.6 L10.6,684.6 L10.3,683.7 L10.0,682.7 L9.7,681.8 L9.5,680.8 L9.3,679.9 L9.2,679.0 L9.0,678.0 L12.1,706.0 L12.2,707.0 L12.4,708.0 L12.6,709.0 L12.8,710.0 L13.0,711.0 L13.3,712.0 L13.7,713.0 L14.0,714.0 L14.4,715.0 L14.8,716.0 L15.3,717.0 L15.7,718.0 L16.3,719.0 L16.8,720.0 L17.4,720.9 L18.0,721.9 L18.7,722.9 L19.4,723.9 L20.1,724.9 L20.8,725.8 L21.6,726.8 L22.4,727.8 L23.3,728.7 L24.2,729.7 L25.1,730.6 L26.1,731.6 L27.1,732.5 L28.1,733.4 L29.2,734.4 L30.3,735.3 L31.4,736.2 L32.5,737.1 L33.7,738.0 L35.0,738.8 L36.2,739.7 L37.5,740.6 L38.8,741.4 L40.2,742.3 L41.6,743.1 L43.0,743.9 L44.4,744.7Z" fill="url(#g7)" stroke="url(#g7)" stroke-width="0.5" stroke-linejoin="round"/>
<path d="M131.0,665.2 L131.0,617.5 L133.1,617.6 L135.3,617.6 L137.4,617.6 L139.5,617.7 L141.6,617.8 L143.8,617.9 L145.9,618.0 L148.0,618.1 L150.1,618.3 L152.2,618.4 L154.3,618.6 L156.4,618.8 L158.5,619.0 L160.6,619.3 L162.6,619.5 L164.7,619.8 L166.8,620.1 L168.8,620.4 L170.9,620.7 L172.9,621.1 L174.9,621.4 L176.9,621.8 L178.9,622.2 L180.9,622.6 L182.9,623.1 L184.8,623.5 L186.8,624.0 L188.7,624.5 L190.6,625.0 L192.5,625.5 L194.4,626.0 L196.3,626.6 L198.2,627.1 L200.0,627.7 L201.8,628.3 L203.6,629.0 L205.4,629.6 L207.1,630.2 L208.9,630.9 L210.6,631.6 L212.3,632.3 L213.9,633.0 L215.6,633.8 L217.2,634.5 L218.8,635.3 L220.4,636.1 L221.9,636.9 L223.4,637.7 L224.9,638.5 L226.3,639.4 L227.8,640.3 L229.2,641.1 L230.5,642.0 L231.9,642.9Z" fill="#666666" stroke="#666666" stroke-width="0.7" stroke-linejoin="round"/>
<path d="M131.0,665.2 L231.9,642.9 L233.2,643.9 L234.4,644.8 L235.7,645.8 L236.9,646.7 L238.0,647.7 L239.1,648.7 L240.2,649.7 L241.3,650.8 L242.3,651.8 L243.3,652.9 L244.2,653.9 L245.1,655.0Z" fill="#a6a6a6" stroke="#a6a6a6" stroke-width="0.7" stroke-linejoin="round"/>
<path d="M131.0,665.2 L245.1,655.0 L245.9,656.1 L246.7,657.2 L247.5,658.3 L248.2,659.4 L248.9,660.6 L249.5,661.7 L250.1,662.9 L250.6,664.0 L251.1,665.2 L251.5,666.4 L251.9,667.6 L252.2,668.8 L252.5,670.0 L252.8,671.2 L252.9,672.4 L253.1,673.7 L253.1,674.9 L253.1,676.1 L253.1,677.4 L253.0,678.6 L252.8,679.9 L252.6,681.1 L252.3,682.4 L252.0,683.6 L251.6,684.9 L251.2,686.2 L250.7,687.4 L250.1,688.7 L249.5,689.9 L248.8,691.2 L248.0,692.4 L247.2,693.7 L246.3,694.9 L245.4,696.2 L244.4,697.4 L243.3,698.6 L242.2,699.8 L241.0,701.1 L239.8,702.3 L238.5,703.4 L237.1,704.6 L235.7,705.8 L234.2,707.0 L232.6,708.1 L231.0,709.2 L229.3,710.3 L227.6,711.4 L225.8,712.5 L223.9,713.6 L222.0,714.6 L220.0,715.7 L218.0,716.7 L215.9,717.6 L213.8,718.6 L211.6,719.6 L209.3,720.5 L207.0,721.4 L204.7,722.2 L202.3,723.1 L199.8,723.9 L197.3,724.7 L194.8,725.4 L192.2,726.2 L189.6,726.9 L186.9,727.6 L184.2,728.2 L181.5,728.8 L178.7,729.4 L175.9,729.9 L173.0,730.5 L170.2,730.9 L167.2,731.4 L164.3,731.8 L161.4,732.2 L158.4,732.5 L155.4,732.8 L152.4,733.1 L149.4,733.4 L146.3,733.6 L143.3,733.7 L140.2,733.9 L137.1,733.9 L134.1,734.0 L131.0,734.0 L127.9,734.0 L124.9,733.9 L121.8,733.9 L118.7,733.7 L115.7,733.6 L112.6,733.4 L109.6,733.1 L106.6,732.8 L103.6,732.5 L100.6,732.2 L97.7,731.8 L94.8,731.4 L91.8,730.9 L89.0,730.5 L86.1,729.9 L83.3,729.4 L80.5,728.8 L77.8,728.2 L75.1,727.6 L72.4,726.9 L69.8,726.2 L67.2,725.4 L64.7,724.7 L62.2,723.9 L59.7,723.1 L57.3,722.2 L55.0,721.4 L52.7,720.5 L50.4,719.6 L48.2,718.6 L46.1,717.6 L44.0,716.7 L42.0,715.7Z" fill="#808080" stroke="#808080" stroke-width="0.7" stroke-linejoin="round"/>
<path d="M131.0,665.2 L42.0,715.7 L40.0,714.6 L38.1,713.6 L36.2,712.5 L34.4,711.4 L32.7,710.3 L31.0,709.2 L29.4,708.1 L27.8,707.0 L26.3,705.8 L24.9,704.6 L23.5,703.4 L22.2,702.3 L21.0,701.1 L19.8,699.8 L18.7,698.6 L17.6,697.4 L16.6,696.2 L15.7,694.9 L14.8,693.7 L14.0,692.4 L13.2,691.2 L12.5,689.9 L11.9,688.7 L11.3,687.4 L10.8,686.2 L10.4,684.9 L10.0,683.6 L9.7,682.4 L9.4,681.1 L9.2,679.9 L9.0,678.6 L8.9,677.4 L8.9,676.1 L8.9,674.9 L8.9,673.7 L9.1,672.4 L9.2,671.2 L9.5,670.0 L9.8,668.8 L10.1,667.6 L10.5,666.4 L10.9,665.2 L11.4,664.0 L11.9,662.9 L12.5,661.7 L13.1,660.6 L13.8,659.4 L14.5,658.3 L15.3,657.2 L16.1,656.1 L16.9,655.0 L17.8,653.9 L18.7,652.9 L19.7,651.8 L20.7,650.8 L21.8,649.7 L22.9,648.7 L24.0,647.7 L25.1,646.7 L26.3,645.8 L27.6,644.8 L28.8,643.9 L30.1,642.9 L31.5,642.0 L32.8,641.1 L34.2,640.3 L35.7,639.4 L37.1,638.5 L38.6,637.7 L40.1,636.9 L41.6,636.1 L43.2,635.3 L44.8,634.5 L46.4,633.8 L48.1,633.0 L49.7,632.3 L51.4,631.6 L53.1,630.9 L54.9,630.2 L56.6,629.6 L58.4,629.0 L60.2,628.3 L62.0,627.7 L63.8,627.1 L65.7,626.6 L67.6,626.0 L69.5,625.5 L71.4,625.0 L73.3,624.5 L75.2,624.0 L77.2,623.5 L79.1,623.1 L81.1,622.6 L83.1,622.2 L85.1,621.8 L87.1,621.4 L89.1,621.1 L91.1,620.7 L93.2,620.4 L95.2,620.1 L97.3,619.8 L99.4,619.5 L101.4,619.3 L103.5,619.0 L105.6,618.8 L107.7,618.6 L109.8,618.4 L111.9,618.3 L114.0,618.1 L116.1,618.0 L118.2,617.9Z" fill="#4d4d4d" stroke="#4d4d4d" stroke-width="0.7" stroke-linejoin="round"/>
<path d="M131.0,665.2 L118.2,617.9 L120.4,617.8 L122.5,617.7 L124.6,617.6 L126.7,617.6 L128.9,617.6 L131.0,617.5Z" fill="#8c8c8c" stroke="#8c8c8c" stroke-width="0.7" stroke-linejoin="round"/>
<path d="M575.6,686.1 L575.4,687.0 L575.2,688.0 L575.0,689.0 L574.7,690.0 L574.4,690.9 L574.1,691.9 L573.7,692.9 L573.3,693.9 L572.9,694.9 L572.4,695.8 L571.9,696.8 L571.3,697.8 L570.7,698.8 L570.1,699.7 L569.4,700.7 L568.7,701.7 L567.9,702.7 L567.2,703.6 L566.3,704.6 L565.5,705.5 L564.6,706.5 L563.6,707.4 L562.7,708.4 L561.6,709.3 L560.6,710.2 L559.5,711.2 L558.4,712.1 L557.2,713.0 L556.0,713.9 L554.7,714.8 L553.5,715.7 L550.7,744.2 L552.0,743.3 L553.2,742.3 L554.4,741.4 L555.5,740.4 L556.6,739.4 L557.7,738.5 L558.7,737.5 L559.7,736.5 L560.7,735.5 L561.6,734.5 L562.5,733.5 L563.4,732.5 L564.2,731.5 L564.9,730.4 L565.7,729.4 L566.4,728.4 L567.1,727.4 L567.7,726.3 L568.3,725.3 L568.8,724.3 L569.3,723.2 L569.8,722.2 L570.3,721.2 L570.7,720.1 L571.1,719.1 L571.4,718.0 L571.7,717.0 L572.0,716.0 L572.2,714.9 L572.4,713.9 L572.6,712.9Z" fill="url(#g8)" stroke="url(#g8)" stroke-width="0.5" stroke-linejoin="round"/>
<path d="M553.5,715.7 L552.1,716.6 L550.8,717.4 L549.4,718.3 L548.0,719.1 L546.5,720.0 L545.0,720.8 L543.5,721.6 L541.9,722.4 L540.3,723.2 L538.6,724.0 L537.0,724.8 L535.3,725.6 L533.5,726.3 L531.7,727.0 L529.9,727.8 L528.1,728.5 L526.2,729.2 L524.3,729.8 L522.4,730.5 L520.4,731.1 L518.4,731.8 L516.4,732.4 L514.3,733.0 L512.3,733.6 L510.2,734.1 L508.0,734.7 L505.9,735.2 L503.7,735.7 L501.5,736.2 L499.3,736.7 L497.0,737.1 L494.8,737.5 L492.5,738.0 L490.2,738.4 L487.8,738.7 L485.5,739.1 L483.1,739.4 L480.8,739.7 L478.4,740.0 L476.0,740.3 L473.6,740.5 L471.1,740.8 L468.7,741.0 L466.2,741.2 L463.8,741.3 L461.3,741.5 L458.9,741.6 L456.4,741.7 L453.9,741.8 L451.4,741.8 L448.9,741.8 L446.5,741.9 L444.0,741.8 L441.5,741.8 L439.0,741.8 L436.5,741.7 L434.1,741.6 L431.6,741.5 L429.1,741.3 L426.7,741.1 L424.2,741.0 L421.8,740.8 L419.4,740.5 L416.9,740.3 L414.5,740.0 L412.2,739.7 L409.8,739.4 L407.4,739.1 L405.1,738.7 L402.8,738.3 L400.5,737.9 L398.2,737.5 L395.9,737.1 L393.7,736.6 L391.4,736.1 L389.2,735.7 L387.1,735.1 L384.9,734.6 L382.8,734.1 L380.7,733.5 L378.6,732.9 L376.5,732.3 L374.5,731.7 L372.5,731.1 L370.6,730.4 L368.6,729.8 L366.7,729.1 L364.9,728.4 L363.0,727.7 L361.2,727.0 L359.5,726.2 L357.7,725.5 L356.0,724.7 L354.3,724.0 L352.7,723.2 L351.1,722.4 L349.5,721.6 L348.0,720.7 L346.5,719.9 L345.0,719.1 L343.6,718.2 L342.2,717.4 L340.9,716.5 L339.6,715.6 L338.3,714.7 L337.0,713.8 L335.8,712.9 L334.7,712.0 L333.6,711.1 L332.5,710.2 L331.4,709.3 L330.4,708.3 L329.4,707.4 L328.5,706.4 L327.6,705.5 L326.7,704.5 L325.9,703.6 L325.1,702.6 L324.4,701.6 L323.7,700.7 L323.0,699.7 L322.4,698.7 L321.8,697.8 L321.2,696.8 L320.7,695.8 L320.2,694.8 L319.8,693.9 L319.4,692.9 L319.0,691.9 L318.7,690.9 L318.4,689.9 L318.1,689.0 L317.9,688.0 L317.7,687.0 L317.5,686.1 L320.5,712.9 L320.7,713.9 L320.9,714.9 L321.1,716.0 L321.4,717.0 L321.7,718.0 L322.1,719.1 L322.4,720.1 L322.8,721.1 L323.3,722.2 L323.8,723.2 L324.3,724.2 L324.8,725.3 L325.4,726.3 L326.0,727.3 L326.7,728.4 L327.4,729.4 L328.1,730.4 L328.9,731.4 L329.7,732.4 L330.6,733.4 L331.4,734.4 L332.4,735.4 L333.3,736.4 L334.3,737.4 L335.3,738.4 L336.4,739.4 L337.5,740.3 L338.7,741.3 L339.8,742.2 L341.0,743.2 L342.3,744.1 L343.6,745.0 L344.9,746.0 L346.3,746.9 L347.7,747.8 L349.1,748.7 L350.6,749.5 L352.1,750.4 L353.6,751.2 L355.2,752.1 L356.8,752.9 L358.4,753.7 L360.1,754.5 L361.8,755.3 L363.5,756.1 L365.3,756.8 L367.0,757.6 L368.9,758.3 L370.7,759.0 L372.6,759.7 L374.5,760.4 L376.5,761.1 L378.4,761.7 L380.4,762.3 L382.5,763.0 L384.5,763.5 L386.6,764.1 L388.7,764.7 L390.8,765.2 L392.9,765.7 L395.1,766.2 L397.3,766.7 L399.5,767.2 L401.7,767.6 L404.0,768.0 L406.2,768.4 L408.5,768.8 L410.8,769.1 L413.1,769.5 L415.4,769.8 L417.8,770.1 L420.1,770.3 L422.5,770.6 L424.8,770.8 L427.2,771.0 L429.6,771.2 L432.0,771.3 L434.4,771.4 L436.8,771.5 L439.2,771.6 L441.6,771.7 L444.0,771.7 L446.5,771.7 L448.9,771.7 L451.3,771.7 L453.7,771.6 L456.1,771.5 L458.5,771.4 L460.9,771.3 L463.3,771.2 L465.7,771.0 L468.1,770.8 L470.5,770.6 L472.8,770.3 L475.2,770.1 L477.5,769.8 L479.8,769.5 L482.1,769.2 L484.4,768.8 L486.7,768.4 L489.0,768.0 L491.2,767.6 L493.4,767.2 L495.7,766.7 L497.8,766.3 L500.0,765.8 L502.2,765.3 L504.3,764.7 L506.4,764.2 L508.4,763.6 L510.5,763.0 L512.5,762.4 L514.5,761.8 L516.5,761.1 L518.4,760.5 L520.4,759.8 L522.2,759.1 L524.1,758.4 L525.9,757.7 L527.7,756.9 L529.5,756.2 L531.2,755.4 L532.9,754.6 L534.6,753.8 L536.2,753.0 L537.8,752.2 L539.4,751.3 L540.9,750.5 L542.4,749.6 L543.9,748.7 L545.3,747.8 L546.7,746.9 L548.1,746.0 L549.4,745.1 L550.7,744.2Z" fill="url(#g9)" stroke="url(#g9)" stroke-width="0.5" stroke-linejoin="round"/>
<path d="M446.6,671.0 L446.6,623.0 L448.8,623.0 L451.1,623.0 L453.3,623.1 L455.6,623.2 L457.8,623.2 L460.0,623.3 L462.3,623.5 L464.5,623.6 L466.7,623.7 L469.0,623.9 L471.2,624.1 L473.4,624.3 L475.6,624.5 L477.8,624.8 L480.0,625.0 L482.2,625.3 L484.4,625.6Z" fill="#646464" stroke="#646464" stroke-width="0.7" stroke-linejoin="round"/>
<path d="M446.6,671.0 L484.4,625.6 L486.7,626.0 L489.0,626.3 L491.3,626.7 L493.6,627.1 L495.9,627.5 L498.1,628.0 L500.4,628.4 L502.6,628.9Z" fill="#a8a8a8" stroke="#a8a8a8" stroke-width="0.7" stroke-linejoin="round"/>
<path d="M446.6,671.0 L502.6,628.9 L504.7,629.4 L506.7,629.9 L508.7,630.4 L510.7,630.9 L512.7,631.4 L514.6,632.0 L516.6,632.5 L518.5,633.1 L520.4,633.7 L522.3,634.4 L524.2,635.0 L526.0,635.7 L527.9,636.3 L529.7,637.0 L531.5,637.7 L533.2,638.4 L535.0,639.2 L536.7,639.9 L538.4,640.7 L540.0,641.5 L541.7,642.3 L543.3,643.1 L544.9,644.0 L546.4,644.8 L547.9,645.7 L549.4,646.6 L550.9,647.5 L552.3,648.4 L553.7,649.4 L555.1,650.3 L556.4,651.3 L557.7,652.2 L558.9,653.2 L560.2,654.3 L561.3,655.3 L562.5,656.3 L563.6,657.4 L564.6,658.4 L565.6,659.5 L566.6,660.6 L567.5,661.7 L568.4,662.8 L569.3,664.0 L570.1,665.1 L570.8,666.3 L571.5,667.4 L572.2,668.6 L572.8,669.8 L573.3,671.0 L573.8,672.2 L574.3,673.4 L574.7,674.7 L575.0,675.9 L575.3,677.2 L575.5,678.4 L575.7,679.7 L575.8,680.9 L575.9,682.2 L575.9,683.5 L575.8,684.8 L575.7,686.1 L575.5,687.4 L575.3,688.7 L575.0,690.0 L574.6,691.3 L574.2,692.6 L573.7,693.9 L573.1,695.2 L572.5,696.5 L571.8,697.8 L571.1,699.1 L570.3,700.4 L569.4,701.7 L568.4,703.0 L567.4,704.2 L566.3,705.5 L565.1,706.8 L563.9,708.0 L562.6,709.3 L561.3,710.5 L559.8,711.8 L558.3,713.0 L556.8,714.2 L555.2,715.4 L553.5,716.6Z" fill="#808080" stroke="#808080" stroke-width="0.7" stroke-linejoin="round"/>
<path d="M446.6,671.0 L553.5,716.6 L551.7,717.8 L549.9,718.9 L548.0,720.1 L546.0,721.2 L544.0,722.3 L541.9,723.4 L539.7,724.4 L537.5,725.5 L535.2,726.5 L532.9,727.5 L530.5,728.4 L528.0,729.4 L525.5,730.3 L522.9,731.2 L520.3,732.1 L517.6,732.9 L514.9,733.7 L512.1,734.5 L509.3,735.2 L506.4,736.0 L503.5,736.6 L500.6,737.3 L497.6,737.9 L494.6,738.5 L491.5,739.0 L488.4,739.5 L485.3,740.0 L482.1,740.5 L478.9,740.9 L475.7,741.2 L472.5,741.5 L469.2,741.8 L465.9,742.1 L462.7,742.3 L459.4,742.5 L456.1,742.6 L452.7,742.7 L449.4,742.7 L446.1,742.8 L442.8,742.7 L439.5,742.7 L436.2,742.6 L432.8,742.4 L429.6,742.2 L426.3,742.0 L423.0,741.8 L419.8,741.5 L416.5,741.1 L413.3,740.7 L410.1,740.3 L407.0,739.9 L403.9,739.4 L400.8,738.9 L397.7,738.3 L394.7,737.7 L391.7,737.1 L388.8,736.5 L385.9,735.8 L383.0,735.0 L380.2,734.3 L377.5,733.5 L374.7,732.7 L372.1,731.8 L369.5,731.0 L366.9,730.1 L364.4,729.1 L362.0,728.2 L359.6,727.2 L357.3,726.2 L355.0,725.2 L352.8,724.1 L350.7,723.1 L348.6,722.0 L346.6,720.9 L344.6,719.7 L342.8,718.6 L340.9,717.4 L339.2,716.3 L337.5,715.1 L335.9,713.9 L334.3,712.7 L332.9,711.4 L331.4,710.2 L330.1,708.9 L328.8,707.7 L327.6,706.4 L326.5,705.1 L325.4,703.8 L324.4,702.6 L323.5,701.3 L322.6,700.0 L321.8,698.7 L321.1,697.4 L320.4,696.1 L319.8,694.7 L319.2,693.4 L318.8,692.1 L318.4,690.8 L318.0,689.5 L317.7,688.2 L317.5,686.9 L317.4,685.6 L317.3,684.3 L317.2,683.0 L317.2,681.8 L317.3,680.5 L317.5,679.2 L317.7,678.0 L317.9,676.7 L318.2,675.5 L318.6,674.2 L319.0,673.0 L319.5,671.8 L320.0,670.6 L320.6,669.4 L321.2,668.2 L321.9,667.0 L322.6,665.8 L323.4,664.7 L324.2,663.5 L325.0,662.4 L325.9,661.3 L326.9,660.2 L327.9,659.1 L328.9,658.0 L330.0,656.9 L331.1,655.9 L332.3,654.8 L333.5,653.8 L334.7,652.8 L336.0,651.8 L337.3,650.8 L338.6,649.9 L340.0,648.9 L341.4,648.0 L342.9,647.1 L344.4,646.2 L345.9,645.3 L347.4,644.4 L349.0,643.6 L350.6,642.8 L352.2,641.9 L353.9,641.1 L355.5,640.4 L357.2,639.6 L359.0,638.8 L360.7,638.1 L362.5,637.4 L364.3,636.7 L366.1,636.0 L368.0,635.3 L369.8,634.7 L371.7,634.1 L373.6,633.4 L375.6,632.8 L377.5,632.3 L379.5,631.7 L381.4,631.2 L383.4,630.6 L385.5,630.1 L387.5,629.6 L389.5,629.2 L391.6,628.7 L393.6,628.3 L395.7,627.8 L397.8,627.4 L399.9,627.0 L402.0,626.7 L404.2,626.3 L406.3,626.0 L408.4,625.7 L410.6,625.4 L412.7,625.1 L414.9,624.8 L417.1,624.6 L419.3,624.4 L421.5,624.2 L423.7,624.0 L425.9,623.8 L428.1,623.6 L430.3,623.5 L432.5,623.4 L434.7,623.3 L436.9,623.2Z" fill="#4d4d4d" stroke="#4d4d4d" stroke-width="0.7" stroke-linejoin="round"/>
<path d="M446.6,671.0 L436.9,623.2 L439.3,623.1 L441.7,623.1 L444.1,623.0 L446.6,623.0Z" fill="#949494" stroke="#949494" stroke-width="0.7" stroke-linejoin="round"/>
<g fill="#000" stroke="#000" stroke-width="0.15">
<text x="41.2" y="346.0" font-size="10.10" text-anchor="middle">Others</text>
<text x="41.2" y="357.7" font-size="10.10" text-anchor="middle">46%</text>
<text x="239.3" y="342.0" font-size="10.10" text-anchor="middle">CGIs</text>
<text x="239.3" y="353.7" font-size="10.10" text-anchor="middle">41%</text>
<text x="195.0" y="498.6" font-size="10.10" text-anchor="middle">CGSs</text>
<text x="195.0" y="510.1" font-size="10.10" text-anchor="middle">13%</text>
<text x="351.4" y="355.0" font-size="10.10" text-anchor="middle">Others</text>
<text x="351.4" y="367.0" font-size="10.10" text-anchor="middle">70%</text>
<text x="531.5" y="333.6" font-size="10.10" text-anchor="middle">CGIs</text>
<text x="531.5" y="345.4" font-size="10.10" text-anchor="middle">13%</text>
<text x="584.7" y="364.4" font-size="10.10" text-anchor="middle">CGSs</text>
<text x="584.7" y="376.4" font-size="10.10" text-anchor="middle">17%</text>
<text x="26.2" y="618.2" font-size="10.10" text-anchor="middle">Intergenic</text>
<text x="26.2" y="630.1" font-size="10.10" text-anchor="middle">37%</text>
<text x="121.3" y="600.5" font-size="10.10" text-anchor="middle">TTRs</text>
<text x="121.3" y="612.1" font-size="10.10" text-anchor="middle">2%</text>
<text x="206.8" y="592.5" font-size="10.10" text-anchor="middle">CGI</text>
<text x="206.8" y="604.0" font-size="10.10" text-anchor="middle">Promoters</text>
<text x="206.8" y="615.5" font-size="10.10" text-anchor="middle">18%</text>
<text x="253.0" y="624.7" font-size="10.10" text-anchor="middle">Non-CGI</text>
<text x="253.0" y="636.4" font-size="10.10" text-anchor="middle">Promoters</text>
<text x="253.0" y="648.1" font-size="10.10" text-anchor="middle">4%</text>
<text x="251.0" y="753.6" font-size="10.10" text-anchor="middle">Intragenic</text>
<text x="251.0" y="765.6" font-size="10.10" text-anchor="middle">39%</text>
<text x="338.8" y="620.0" font-size="10.10" text-anchor="middle">Intergenic</text>
<text x="338.8" y="632.0" font-size="10.10" text-anchor="middle">62%</text>
<text x="433.7" y="602.5" font-size="10.10" text-anchor="middle">TTRs</text>
<text x="433.7" y="614.5" font-size="10.10" text-anchor="middle">2%</text>
<text x="478.0" y="590.5" font-size="10.10" text-anchor="middle">CGI</text>
<text x="478.0" y="602.2" font-size="10.10" text-anchor="middle">Promoters</text>
<text x="478.0" y="614.0" font-size="10.10" text-anchor="middle">6%</text>
<text x="539.5" y="602.0" font-size="10.10" text-anchor="middle">Non-CGI</text>
<text x="539.5" y="614.0" font-size="10.10" text-anchor="middle">Promoters</text>
<text x="539.5" y="626.0" font-size="10.10" text-anchor="middle">3%</text>
<text x="575.8" y="640.7" font-size="10.10" text-anchor="middle">Intragenic</text>
<text x="575.8" y="652.7" font-size="10.10" text-anchor="middle">28%</text>
</g>
<g fill="none" stroke="#8c8c8c" stroke-width="0.7">
<path d="M250.7,353.4H253.4L254,375.7"/>
<path d="M180.4,498.4H178L163.3,486.7"/>
<path d="M520,345H518L501.6,348"/>
<path d="M577,378L576,383.5"/>
<path d="M20.5,631V649"/>
<path d="M197.3,615.4H194.5L189.2,622.3"/>
<path d="M245.2,647.5H242.5L237,653.8"/>
<path d="M228.6,754.2H226L200,752.2"/>
<path d="M441.3,614L442.7,622"/>
<path d="M470,613.5H468L465.9,622"/>
<path d="M515,614.5H512L493.5,627.5"/>
<path d="M569.3,654L568,662"/>
</g>
</svg>
</body></html>
